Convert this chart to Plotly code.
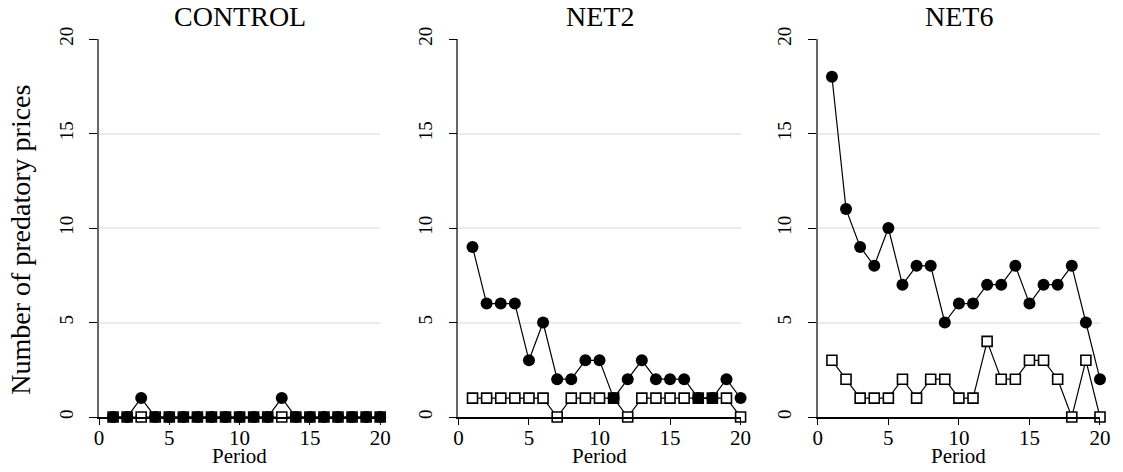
import plotly.graph_objects as go

periods = list(range(1, 21))
panels = ["CONTROL", "NET2", "NET6"]

control_filled = [0, 0, 1, 0, 0, 0, 0, 0, 0, 0, 0, 0, 1, 0, 0, 0, 0, 0, 0, 0]
control_hollow = [0] * 20
net2_filled = [9, 6, 6, 6, 3, 5, 2, 2, 3, 3, 1, 2, 3, 2, 2, 2, 1, 1, 2, 1]
net2_hollow = [1, 1, 1, 1, 1, 1, 0, 1, 1, 1, 1, 0, 1, 1, 1, 1, 1, 1, 1, 0]
net6_filled = [18, 11, 9, 8, 10, 7, 8, 8, 5, 6, 6, 7, 7, 8, 6, 7, 7, 8, 5, 2]
net6_hollow = [3, 2, 1, 1, 1, 2, 1, 2, 2, 1, 1, 4, 2, 2, 3, 3, 2, 0, 3, 0]

filled = [control_filled, net2_filled, net6_filled]
hollow = [control_hollow, net2_hollow, net6_hollow]

x_ticks = [0, 5, 10, 15, 20]
y_ticks = [0, 5, 10, 15, 20]

FONT = "Liberation Serif"
W, H = 1123, 472
L, R, T, B = 99, 13, 39, 55
pw = W - L - R
domains = [
    [0, 284 / pw],
    [(462 - L) / pw, (747 - L) / pw],
    [(825 - L) / pw, 1.0],
]

fig = go.Figure()
for i in range(3):
    ax = "" if i == 0 else str(i + 1)
    fig.add_trace(go.Scatter(
        x=periods, y=hollow[i], mode="lines+markers",
        xaxis="x" + ax, yaxis="y" + ax,
        line=dict(color="black", width=1.2),
        marker=dict(symbol="square", size=10, color="white",
                    line=dict(color="black", width=1.6)),
        cliponaxis=False, showlegend=False,
    ))
    fig.add_trace(go.Scatter(
        x=periods, y=filled[i], mode="lines+markers",
        xaxis="x" + ax, yaxis="y" + ax,
        line=dict(color="black", width=1.2),
        marker=dict(symbol="circle", size=12, color="black"),
        cliponaxis=False, showlegend=False,
    ))
    xa = dict(
        domain=domains[i], range=[0, 20], tickvals=x_ticks,
        ticktext=[str(v) for v in x_ticks],
        showgrid=False, zeroline=False, showline=True, linecolor="black",
        linewidth=1.5, ticks="outside", ticklen=6, tickcolor="black",
        tickwidth=1, tickfont=dict(family=FONT, size=21, color="black"),
        ticklabelstandoff=-5,
        anchor="y" + ax,
    )
    ya = dict(
        domain=[0, 1], range=[0, 20], tickvals=y_ticks,
        ticktext=[str(v) for v in y_ticks],
        showgrid=True, gridcolor="#ebebeb", gridwidth=1.5,
        zeroline=False, showline=True, linecolor="#666666", linewidth=1.5,
        ticks="outside", ticklen=8, tickcolor="black", tickwidth=1,
        tickangle=-90, tickfont=dict(family=FONT, size=19, color="black"),
        ticklabelstandoff=9,
        anchor="x" + ax,
    )
    fig.update_layout(**{"xaxis" + ax: xa, "yaxis" + ax: ya})
    cx = (domains[i][0] + domains[i][1]) / 2
    fig.add_annotation(
        text=panels[i], x=cx, y=1,
        xref="paper", yref="paper", xanchor="center", yanchor="bottom",
        yshift=5, showarrow=False,
        font=dict(family=FONT, size=28, color="black"),
    )
    fig.add_annotation(
        text="Period", x=cx, y=0,
        xref="paper", yref="paper", xanchor="center", yanchor="middle",
        yshift=-39, showarrow=False,
        font=dict(family=FONT, size=21, color="black"),
    )

fig.add_annotation(
    text="Number of predatory prices", x=(19 - L) / pw, y=0.5,
    xref="paper", yref="paper", textangle=-90, showarrow=False,
    xanchor="center", yanchor="middle", yshift=-12,
    font=dict(family=FONT, size=28, color="black"),
)

fig.update_layout(
    width=W, height=H, margin=dict(l=L, r=R, t=T, b=B),
    paper_bgcolor="white", plot_bgcolor="white",
)
fig.write_html(
    "out.html",
    config={"displayModeBar": False},
    post_script="document.body.style.margin='0';document.body.style.overflow='hidden';",
)
